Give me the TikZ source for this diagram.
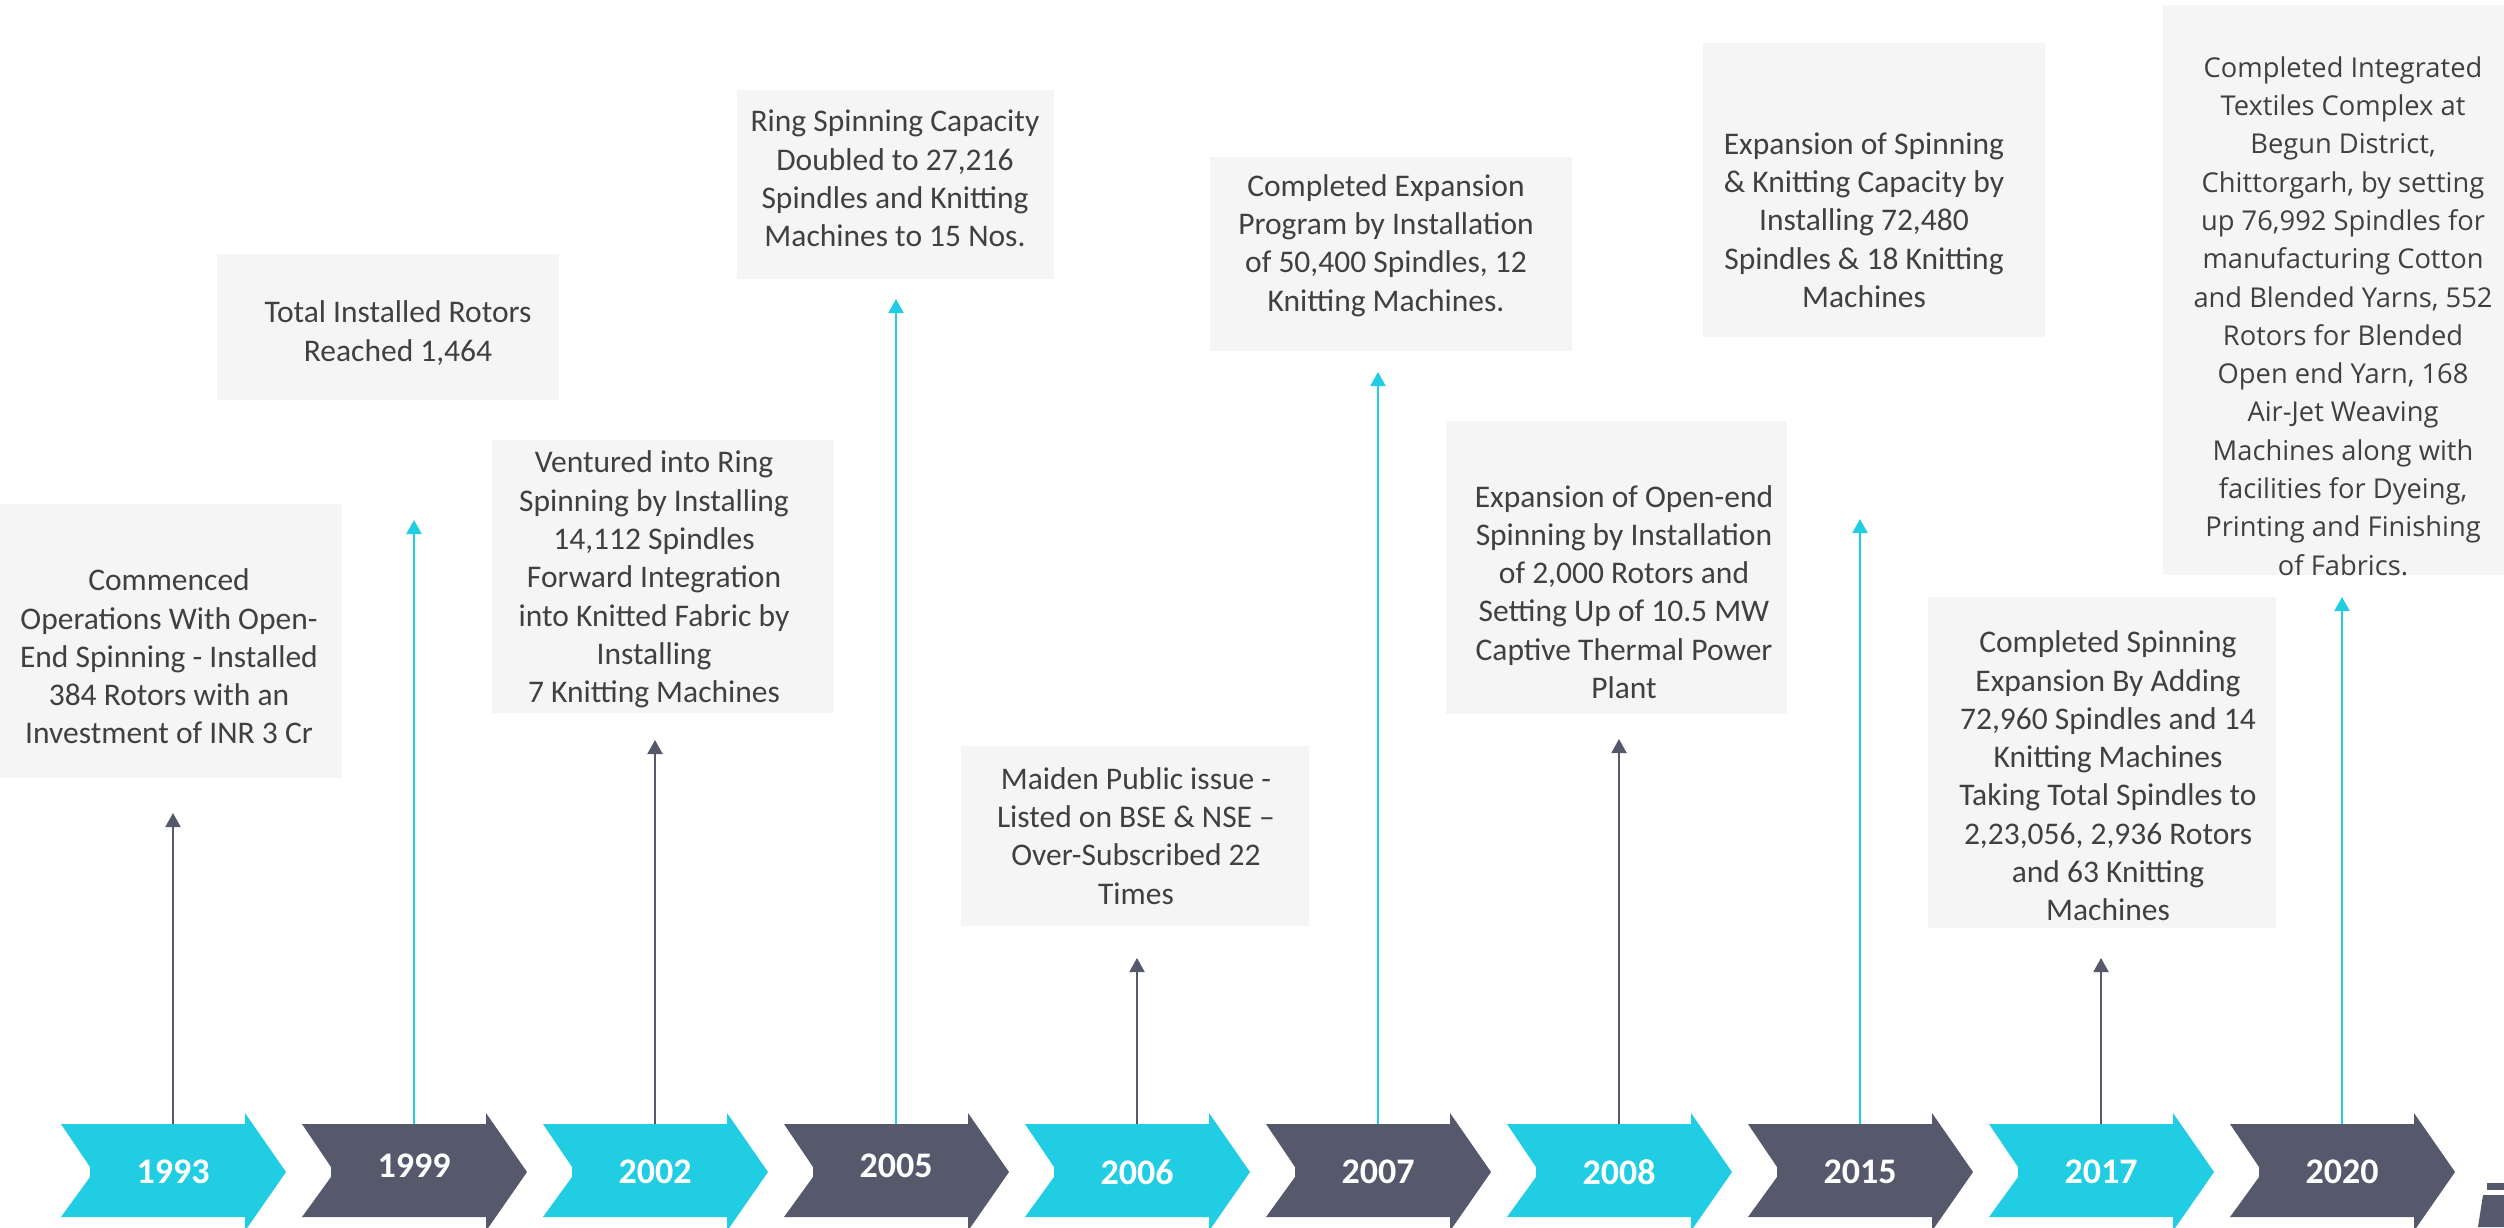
\documentclass[tikz,border=0pt]{standalone}
\usepackage{fontspec}
\setmainfont{Carlito}
\newfontfamily\osans{Open Sans}
\usetikzlibrary{arrows.meta}
\definecolor{cy}{RGB}{32,205,226}
\definecolor{dk}{RGB}{85,89,107}
\definecolor{bx}{RGB}{245,245,245}
\definecolor{tx}{RGB}{64,64,64}
\begin{document}
\begin{tikzpicture}[x=1pt,y=-1pt,
  box/.style={fill=bx, draw=none, inner sep=0pt, outer sep=0pt},
  desc/.style={text=tx, align=center, inner sep=0pt, font=\fontsize{31.5}{38.3}\selectfont},
  descb/.style={text=tx, align=center, inner sep=0pt, font=\osans\fontsize{27.3}{38.3}\selectfont},
  yr/.style={text=white, inner sep=0pt, font=\bfseries\fontsize{36}{40}\selectfont},
  conn/.style={line width=2pt, -{Triangle[width=15pt,length=14pt]}},
]
\useasboundingbox (0,0) rectangle (2504,1227);
\clip (0,0) rectangle (2504,1227);
\fill[white] (0,0) rectangle (2504,1227);

% description boxes
\node[box, minimum width=342pt, minimum height=274pt] (b1993) at (171,641) {};
\node[box, minimum width=342pt, minimum height=146pt] (b1999) at (388,327) {};
\node[box, minimum width=342pt, minimum height=273pt] (b2002) at (663,576.5) {};
\node[box, minimum width=317pt, minimum height=189pt] (b2005) at (895.5,184.5) {};
\node[box, minimum width=348pt, minimum height=180pt] (b2006) at (1135,836) {};
\node[box, minimum width=362pt, minimum height=194pt] (b2007) at (1391,254) {};
\node[box, minimum width=341pt, minimum height=293pt] (b2008) at (1616.5,567.5) {};
\node[box, minimum width=342pt, minimum height=294pt] (b2015) at (1874,190) {};
\node[box, minimum width=348pt, minimum height=331pt] (b2017) at (2102,762.5) {};
\node[box, minimum width=341pt, minimum height=570pt] (b2020) at (2333.5,290) {};

% texts
\node[desc] (t1993) at (169,656.5) {Commenced\\Operations With Open-\\End Spinning - Installed\\384 Rotors with an\\Investment of INR 3 Cr};
\node[desc] (t1999) at (398,333) {Total Installed Rotors\\Reached 1,464};
\node[desc] (t2002) at (654,579.5) {Ventured into Ring\\Spinning by Installing\\14,112 Spindles\\Forward Integration\\into Knitted Fabric by\\Installing\\7 Knitting Machines};
\node[desc] (t2005) at (895,178.5) {Ring Spinning Capacity\\Doubled to 27,216\\Spindles and Knitting\\Machines to 15 Nos.};
\node[desc] (t2006) at (1136,836) {Maiden Public issue -\\Listed on BSE \& NSE --\\Over-Subscribed 22\\Times};
\node[desc] (t2007) at (1386,245.5) {Completed Expansion\\Program by Installation\\of 50,400 Spindles, 12\\Knitting Machines.};
\node[desc] (t2008) at (1624,592) {Expansion of Open-end\\Spinning by Installation\\of 2,000 Rotors and\\Setting Up of 10.5 MW\\Captive Thermal Power\\Plant};
\node[desc] (t2015) at (1864,220) {Expansion of Spinning\\\& Knitting Capacity by\\Installing 72,480\\Spindles \& 18 Knitting\\Machines};
\node[desc] (t2017) at (2108,776) {Completed Spinning\\Expansion By Adding\\72,960 Spindles and 14\\Knitting Machines\\Taking Total Spindles to\\2,23,056, 2,936 Rotors\\and 63 Knitting\\Machines};
\node[descb] (t2020) at (2343,316) {Completed Integrated\\Textiles Complex at\\Begun District,\\Chittorgarh, by setting\\up 76,992 Spindles for\\manufacturing Cotton\\and Blended Yarns, 552\\Rotors for Blended\\Open end Yarn, 168\\Air-Jet Weaving\\Machines along with\\facilities for Dyeing,\\Printing and Finishing\\of Fabrics.};

% chevrons, years, connectors
\foreach \i/\yr/\fc/\lc/\ty/\ay in {0/1993/cy/dk/1172/813, 1/1999/dk/cy/1166/520, 2/2002/cy/dk/1172/740, 3/2005/dk/cy/1166/299, 4/2006/cy/dk/1172/958, 5/2007/dk/cy/1172/372, 6/2008/cy/dk/1172/739, 7/2015/dk/cy/1172/519, 8/2017/cy/dk/1172/958, 9/2020/dk/cy/1172/597}{
  \pgfmathsetmacro\xo{61+241*\i}
  \fill[\fc] (\xo,1124) -- ({\xo+184},1124) -- ({\xo+184},1113) -- ({\xo+225},1172) -- ({\xo+184},1231) -- ({\xo+184},1217) -- (\xo,1217) -- ({\xo+29},1177) -- ({\xo+29},1167) -- cycle;
  \node[yr] (y\yr) at ({\xo+112},\ty) {\yr};
  \coordinate (s\yr) at ({\xo+112},1124);
  \coordinate (a\yr) at ({\xo+112},\ay);
  \draw[conn,\lc] (s\yr) -- (a\yr);
}

% partial logo at bottom right corner
\fill[dk] (2487,1183) rectangle (2504,1190);
\fill[dk] (2483,1195) -- (2504,1195) -- (2504,1227) -- (2478,1227) -- cycle;
\end{tikzpicture}
\end{document}
